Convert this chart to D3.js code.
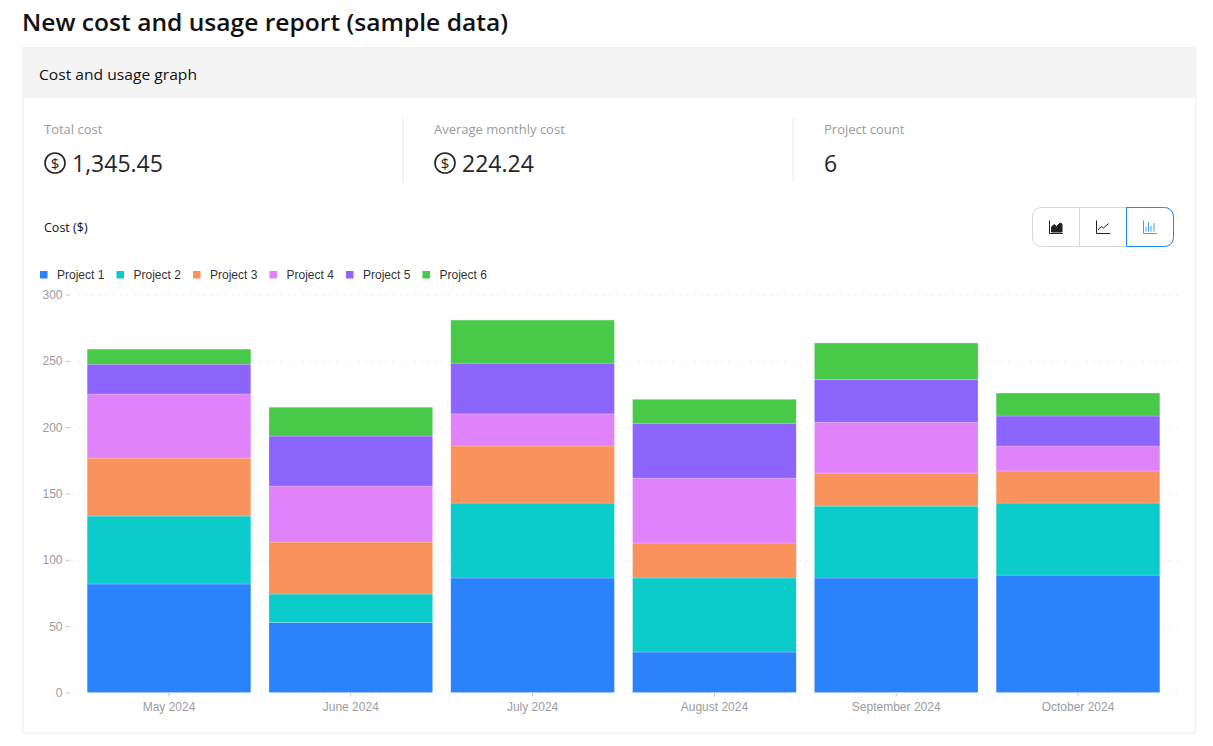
<!DOCTYPE html>
<html>
<head>
    <meta charset="utf-8" />
    <title>New cost and usage report (sample data)</title>
    <script src="https://d3js.org/d3.v7.min.js"></script>
    <style>
        html, body { margin: 0; padding: 0; background: #fff; overflow: hidden; }
        svg { display: block; }
    </style>
</head>
<body>
    <svg id="chart" width="1213" height="746"></svg>

<script>
    // Values
    const months = ["May 2024", "June 2024", "July 2024", "August 2024", "September 2024", "October 2024"];
    const projects = ["Project 1", "Project 2", "Project 3", "Project 4", "Project 5", "Project 6"];
    const project1 = [81.8, 52.7, 86.3, 30.5, 86.3, 88.5];
    const project2 = [51.2, 21.5, 56.5, 55.8, 54.2, 54.3];
    const project3 = [43.7, 39.2, 43.0, 26.4, 24.9, 24.2];
    const project4 = [48.3, 42.2, 24.2, 48.9, 38.4, 18.8];
    const project5 = [22.5, 37.7, 38.3, 41.4, 32.2, 22.6];
    const project6 = [11.3, 21.7, 32.4, 18.0, 27.4, 17.3];
    const yTicks = [0, 50, 100, 150, 200, 250, 300];
    const colors = ["#2a82fc", "#0ccbcb", "#fa925d", "#e083fa", "#8c66fc", "#49c94a"];

    const stats = [
        { label: "Total cost", value: "1,345.45", dollar: true },
        { label: "Average monthly cost", value: "224.24", dollar: true },
        { label: "Project count", value: "6", dollar: false }
    ];

    const uiFont = "'Open Sans', 'Noto Sans', sans-serif";
    const chartFont = "'Liberation Sans', Arial, sans-serif";

    const svg = d3.select("#chart");

    // Page title
    svg.append("text")
        .attr("x", 22).attr("y", 31)
        .attr("font-family", uiFont).attr("font-size", 24).attr("font-weight", 600)
        .attr("textLength", 486).attr("lengthAdjust", "spacingAndGlyphs")
        .attr("fill", "#111")
        .text("New cost and usage report (sample data)");

    // Card and header
    svg.append("rect")
        .attr("x", 23).attr("y", 48).attr("width", 1172.5).attr("height", 685)
        .attr("fill", "#fff").attr("stroke", "#f3f3f3").attr("stroke-width", 2);
    svg.append("rect")
        .attr("x", 22).attr("y", 48).attr("width", 1174).attr("height", 50)
        .attr("fill", "#f4f4f4");
    svg.append("text")
        .attr("x", 39).attr("y", 80)
        .attr("font-family", uiFont).attr("font-size", 14.5).attr("font-weight", 500)
        .attr("textLength", 158).attr("lengthAdjust", "spacingAndGlyphs")
        .attr("fill", "#111")
        .text("Cost and usage graph");

    // Stat blocks
    const statX = d3.scaleBand().domain(d3.range(3)).range([44, 1214]);
    stats.forEach((s, i) => {
        const x = statX(i);
        svg.append("text")
            .attr("x", x).attr("y", 134)
            .attr("font-family", uiFont).attr("font-size", 13)
            .attr("fill", "#9a9a9a")
            .text(s.label);
        let tx = x;
        if (s.dollar) {
            svg.append("circle")
                .attr("cx", x + 11).attr("cy", 163).attr("r", 10)
                .attr("fill", "none").attr("stroke", "#222").attr("stroke-width", 1.6);
            svg.append("text")
                .attr("x", x + 11).attr("y", 168.5).attr("text-anchor", "middle")
                .attr("font-family", uiFont).attr("font-size", 15)
                .attr("fill", "#222")
                .text("$");
            tx = x + 28;
        }
        svg.append("text")
            .attr("x", tx).attr("y", 172)
            .attr("font-family", uiFont).attr("font-size", 23)
            .attr("fill", "#262626")
            .text(s.value);
        if (i > 0) {
            svg.append("line")
                .attr("x1", x - 31).attr("x2", x - 31)
                .attr("y1", 118).attr("y2", 182)
                .attr("stroke", "#efefef").attr("stroke-width", 1.5);
        }
    });

    // Chart title
    svg.append("text")
        .attr("x", 44).attr("y", 232)
        .attr("font-family", uiFont).attr("font-size", 12.5).attr("font-weight", 500)
        .attr("fill", "#111")
        .text("Cost ($)");

    // Chart type switcher
    const sw = svg.append("g");
    sw.append("rect")
        .attr("x", 1032.5).attr("y", 207.5).attr("width", 141).attr("height", 39).attr("rx", 9)
        .attr("fill", "#fff").attr("stroke", "#d9d9d9");
    sw.append("line")
        .attr("x1", 1079.5).attr("x2", 1079.5).attr("y1", 207.5).attr("y2", 246.5)
        .attr("stroke", "#d9d9d9");
    sw.append("path")
        .attr("d", "M1126.5,207.5H1164.5a9,9 0 0 1 9,9V237.5a9,9 0 0 1 -9,9H1126.5Z")
        .attr("fill", "#fff").attr("stroke", "#1a8cff");

    const icon = sw.append("g").attr("fill", "none").attr("stroke", "#222").attr("stroke-width", 1);
    // area icon
    icon.append("path").attr("d", "M1049.5,220.5V233.5H1063");
    icon.append("path").attr("d", "M1051.5,232V227L1054,224.5L1056.5,226.5L1060,223L1062,224V232Z")
        .attr("fill", "#222");
    // line icon
    icon.append("path").attr("d", "M1096.5,220.5V233.5H1110");
    icon.append("path").attr("d", "M1098,230L1101,226.5L1103.5,228L1108.5,223.5");
    // bar icon
    const barIcon = sw.append("g").attr("fill", "none").attr("stroke", "#3f9bfb").attr("stroke-width", 1);
    barIcon.append("path").attr("d", "M1143.5,220.5V233.5H1157");
    barIcon.append("path").attr("d", "M1146,231.5V227M1148.5,231.5V222M1151,231.5V226M1154,231.5V223");

    // Legend
    projects.forEach((p, i) => {
        const lx = 40 + i * 76.5;
        svg.append("rect")
            .attr("x", lx).attr("y", 271).attr("width", 7.5).attr("height", 7.5)
            .attr("fill", colors[i]);
        svg.append("text")
            .attr("x", lx + 17).attr("y", 279)
            .attr("font-family", chartFont).attr("font-size", 12)
            .attr("fill", "#333")
            .text(p);
    });

    // Scales
    const xScale = d3.scaleBand().domain(months).range([69, 1178]).padding(0.1);
    const yScale = d3.scaleLinear().domain([0, 300]).range([692.5, 294.5]);

    // Grid
    svg.append("g")
        .selectAll("line")
        .data(yTicks)
        .enter().append("line")
        .attr("x1", 70).attr("x2", 1178)
        .attr("y1", d => yScale(d) + 0.5).attr("y2", d => yScale(d) + 0.5)
        .attr("stroke", "#f0f0f0").attr("stroke-dasharray", "3 4");

    // Stacked bars
    const rows = months.map((m, i) => ({
        month: m,
        "Project 1": project1[i],
        "Project 2": project2[i],
        "Project 3": project3[i],
        "Project 4": project4[i],
        "Project 5": project5[i],
        "Project 6": project6[i]
    }));
    const stacked = d3.stack().keys(projects)(rows);

    svg.append("g")
        .selectAll("g")
        .data(stacked)
        .enter().append("g")
        .attr("fill", (d, i) => colors[i])
        .selectAll("rect")
        .data(d => d)
        .enter().append("rect")
        .attr("x", d => xScale(d.data.month))
        .attr("width", xScale.bandwidth())
        .attr("y", d => yScale(d[1]))
        .attr("height", d => yScale(d[0]) - yScale(d[1]))
        .attr("stroke", "#fff")
        .attr("stroke-opacity", 0.3)
        .attr("stroke-width", 0.6);

    // Axes
    const xAxis = d3.axisBottom(xScale).tickSize(4).tickPadding(6);
    const yAxis = d3.axisLeft(yScale).tickValues(yTicks).tickSize(4).tickPadding(3);

    const gx = svg.append("g").attr("transform", "translate(0, 692.5)").call(xAxis);
    const gy = svg.append("g").attr("transform", "translate(69.5, 0)").call(yAxis);

    [gx, gy].forEach(g => {
        g.select(".domain").remove();
        g.selectAll("line").attr("stroke", "#c8c8c8");
        g.selectAll("text")
            .attr("font-family", chartFont)
            .attr("font-size", 12)
            .attr("fill", "#9c9c9c");
    });
</script>
</body>
</html>
